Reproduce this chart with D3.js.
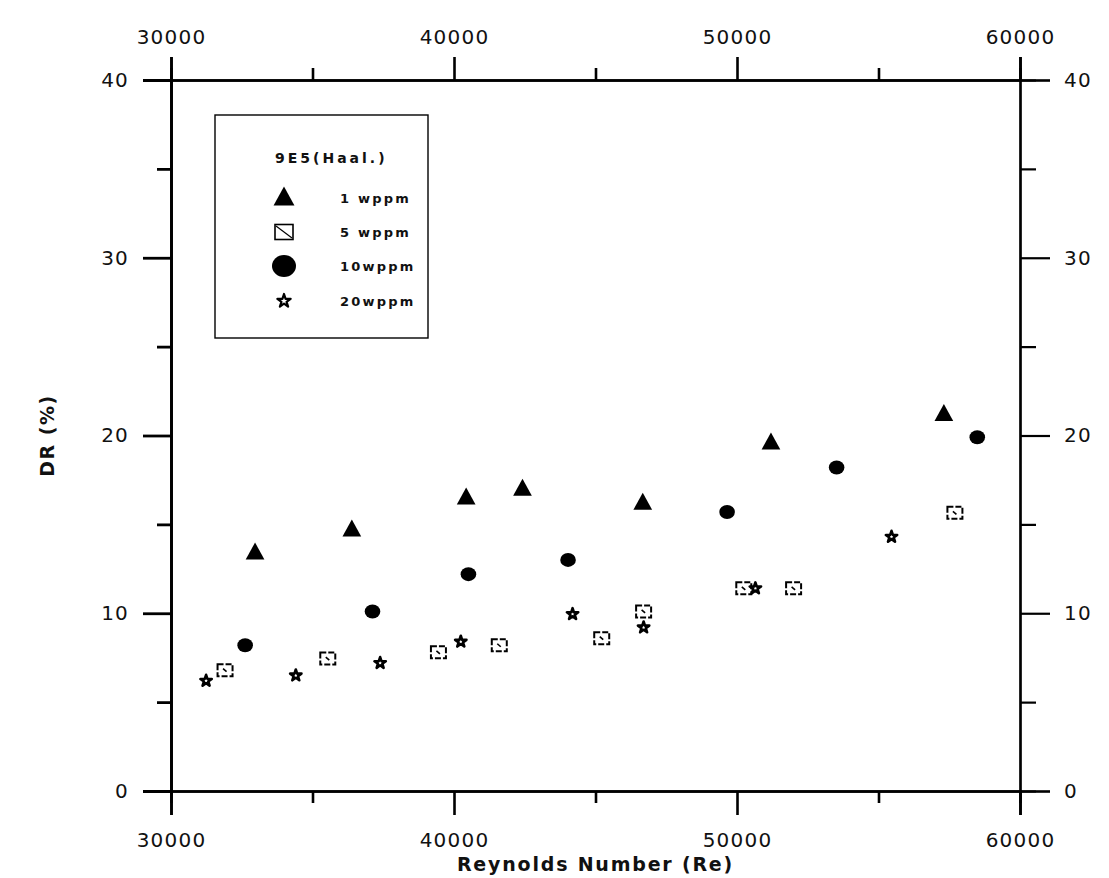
<!DOCTYPE html>
<html>
<head>
<meta charset="utf-8">
<script src="https://cdn.jsdelivr.net/npm/d3@7"></script>
<style>
  body { margin: 0; background: #fff; }
  svg { display: block; }
  text { font-family: "DejaVu Sans", sans-serif; fill: #111; }
</style>
</head>
<body>
<div id="chart"></div>
<script>
// data
var xMajor = [30000, 40000, 50000, 60000]
var xMinor = [35000, 45000, 55000]
var yMajor = [0, 10, 20, 30, 40]
var yMinor = [5, 15, 25, 35]

var series = ["1 wppm", "5 wppm", "10wppm", "20wppm"]
var legendTitle = "9E5(Haal.)"

var re1 = [32970, 36390, 40430, 42420, 46670, 51200, 57310]
var dr1 = [13.4, 14.7, 16.5, 17.0, 16.2, 19.6, 21.2]

var re5 = [31910, 35540, 39450, 41600, 45220, 46700, 50240, 52000, 57700]
var dr5 = [6.8, 7.45, 7.8, 8.2, 8.6, 10.1, 11.4, 11.4, 15.65]

var re10 = [32620, 37120, 40510, 44030, 49650, 53520, 58490]
var dr10 = [8.2, 10.1, 12.2, 13.0, 15.7, 18.2, 19.9]

var re20 = [31240, 34410, 37390, 40240, 44190, 46700, 50650, 55460]
var dr20 = [6.2, 6.5, 7.2, 8.4, 9.95, 9.2, 11.4, 14.3]

var width = 1109
var height = 878
var margin = { top: 80, right: 89, bottom: 87, left: 171 }

var svg = d3.select("#chart")
    .append("svg")
    .attr("width", width)
    .attr("height", height)

var x = d3.scaleLinear()
    .domain([30000, 60000])
    .range([margin.left, width - margin.right])

var y = d3.scaleLinear()
    .domain([0, 40])
    .range([height - margin.bottom, margin.top])

// axes, major ticks with labels and minor ticks without
var styleAxis = (g, sw) => {
    g.selectAll(".domain").attr("stroke", "#000").attr("stroke-width", sw)
    g.selectAll(".tick line").attr("stroke", "#000").attr("stroke-width", sw)
    g.selectAll(".tick text")
        .style("font-size", "20px")
        .style("letter-spacing", "1.2px")
        .attr("fill", "#111")
}

var addAxis = (axis, tx, ty, ticks, size, pad, labels, sw) => {
    var a = axis.tickValues(ticks).tickSizeOuter(0).tickSize(size).tickPadding(pad)
    a = labels ? a.tickFormat(d3.format("d")) : a.tickFormat("")
    var g = svg.append("g")
        .attr("transform", "translate(" + tx + "," + ty + ")")
        .call(a)
    styleAxis(g, sw)
}

addAxis(d3.axisBottom(x), 0, y(0), xMajor, 24, 18, true, 2.6)
addAxis(d3.axisBottom(x), 0, y(0), xMinor, 12, 0, false, 2.6)
addAxis(d3.axisTop(x), 0, y(40), xMajor, 23, 13, true, 2.6)
addAxis(d3.axisTop(x), 0, y(40), xMinor, 12, 0, false, 2.6)
addAxis(d3.axisLeft(y), x(30000), 0, yMajor, 28, 14, true, 2.8)
addAxis(d3.axisLeft(y), x(30000), 0, yMinor, 14, 0, false, 2.8)
addAxis(d3.axisRight(y), x(60000), 0, yMajor, 30, 14, true, 2.2)
addAxis(d3.axisRight(y), x(60000), 0, yMinor, 16, 0, false, 2.2)

// axis titles
svg.append("text")
    .attr("x", (x(30000) + x(60000)) / 2)
    .attr("y", 871)
    .attr("text-anchor", "middle")
    .style("font-size", "19px")
    .style("font-weight", "bold")
    .style("letter-spacing", "1.8px")
    .text("Reynolds Number (Re)")

svg.append("text")
    .attr("transform", "translate(54," + y(20) + ") rotate(-90)")
    .attr("text-anchor", "middle")
    .style("font-size", "19px")
    .style("font-weight", "bold")
    .style("letter-spacing", "1.5px")
    .text("DR (%)")

// marker shapes
var triPath = (s) => "M0," + (-s * 0.6) + "L" + (s * 0.55) + "," + (s * 0.4) + "L" + (-s * 0.55) + "," + (s * 0.4) + "Z"
var star = d3.symbol().type(d3.symbolStar)

var zip = (xs, ys) => xs.map((v, i) => ({ re: v, dr: ys[i] }))

var plot = svg.append("g")

plot.selectAll(".tri")
    .data(zip(re1, dr1))
    .enter()
    .append("path")
    .attr("transform", (d) => "translate(" + x(d.re) + "," + y(d.dr) + ")")
    .attr("d", triPath(17))
    .attr("fill", "#000")

plot.selectAll(".dot")
    .data(zip(re10, dr10))
    .enter()
    .append("ellipse")
    .attr("cx", (d) => x(d.re))
    .attr("cy", (d) => y(d.dr))
    .attr("rx", 7.8)
    .attr("ry", 7)
    .attr("fill", "#000")

var sq = plot.selectAll(".sq")
    .data(zip(re5, dr5))
    .enter()
    .append("g")
    .attr("transform", (d) => "translate(" + x(d.re) + "," + y(d.dr) + ")")
sq.append("rect")
    .attr("x", -7.5).attr("y", -6)
    .attr("width", 15).attr("height", 12)
    .attr("fill", "#fff")
    .attr("stroke", "#000")
    .attr("stroke-width", 2)
    .attr("stroke-dasharray", "6,2")
sq.append("path")
    .attr("d", "M-2,-1.5L1.5,1.5")
    .attr("stroke", "#000")
    .attr("stroke-width", 1.6)

plot.selectAll(".star")
    .data(zip(re20, dr20))
    .enter()
    .append("path")
    .attr("transform", (d) => "translate(" + x(d.re) + "," + y(d.dr) + ")")
    .attr("d", star.size(40)())
    .attr("fill", "#fff")
    .attr("stroke", "#000")
    .attr("stroke-width", 2.6)
    .attr("stroke-linejoin", "round")

// legend
var lg = svg.append("g")
lg.append("rect")
    .attr("x", 215).attr("y", 115)
    .attr("width", 213).attr("height", 223)
    .attr("fill", "#fff")
    .attr("stroke", "#000")
    .attr("stroke-width", 1.4)

lg.append("text")
    .attr("x", 275).attr("y", 163)
    .style("font-size", "14px")
    .style("font-weight", "bold")
    .style("letter-spacing", "3px")
    .text(legendTitle)

var rowY = [198, 232, 266, 301]
var mx = 284

lg.append("path")
    .attr("transform", "translate(" + mx + "," + rowY[0] + ")")
    .attr("d", triPath(19))
    .attr("fill", "#000")

lg.append("rect")
    .attr("x", mx - 9).attr("y", rowY[1] - 7.5)
    .attr("width", 18).attr("height", 15)
    .attr("fill", "#fff")
    .attr("stroke", "#000")
    .attr("stroke-width", 1.6)
lg.append("path")
    .attr("d", "M" + (mx - 8) + "," + (rowY[1] - 6) + "L" + (mx + 8) + "," + (rowY[1] + 6))
    .attr("stroke", "#000")
    .attr("stroke-width", 1.2)

lg.append("ellipse")
    .attr("cx", mx).attr("cy", rowY[2])
    .attr("rx", 12).attr("ry", 11)
    .attr("fill", "#000")

lg.append("path")
    .attr("transform", "translate(" + mx + "," + rowY[3] + ")")
    .attr("d", star.size(55)())
    .attr("fill", "#fff")
    .attr("stroke", "#000")
    .attr("stroke-width", 2.2)
    .attr("stroke-linejoin", "round")

lg.selectAll(".lab")
    .data(series)
    .enter()
    .append("text")
    .attr("x", 340)
    .attr("y", (d, i) => rowY[i] + 5)
    .style("font-size", "13px")
    .style("font-weight", "bold")
    .style("letter-spacing", "2.2px")
    .text((d) => d)
</script>
</body>
</html>
